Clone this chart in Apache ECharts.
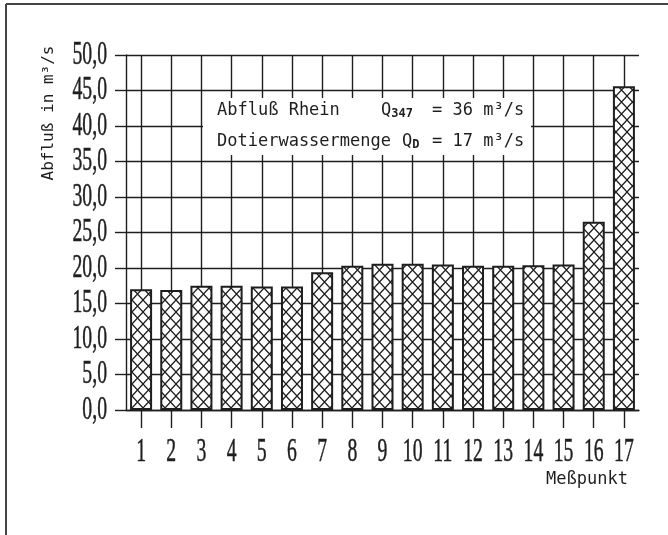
<!DOCTYPE html>
<html><head><meta charset="utf-8">
<script src="https://cdn.jsdelivr.net/npm/echarts@6/dist/echarts.min.js"></script>
<style>html,body{margin:0;padding:0;background:#fff}#c{width:668px;height:535px}</style>
</head><body><div id="c"></div>
<script>
const categories = ['1','2','3','4','5','6','7','8','9','10','11','12','13','14','15','16','17'];
const flowValues = [17.0, 16.9, 17.5, 17.5, 17.4, 17.4, 19.4, 20.3, 20.6, 20.6, 20.5, 20.3, 20.3, 20.4, 20.5, 26.5, 45.6];
const yMin = 0, yMax = 50, yStep = 5;
const yAxisName = 'Abfluß in m³/s';
const xAxisName = 'Meßpunkt';
const noteRiver = 'Abfluß Rhein';
const noteRiverQ = 'Q{s|347}';
const noteRiverVal = '= 36 m³/s';
const noteDot = 'Dotierwassermenge';
const noteDotQ = 'Q{s|D}';
const noteDotVal = '= 17 m³/s';

const INK = '#1e1e1e';
const MONO = '"DejaVu Sans Mono", "Liberation Mono", monospace';
const NUMF = '"Liberation Serif", serif';
const NUMSIZE = 34;

function hatch() {
  const c = document.createElement('canvas');
  c.width = 11; c.height = 12;
  const g = c.getContext('2d');
  g.fillStyle = '#fff'; g.fillRect(0, 0, 11, 12);
  g.strokeStyle = INK; g.lineWidth = 1.3;
  g.beginPath();
  g.moveTo(-1, -12/11); g.lineTo(12, 12 + 12/11);
  g.moveTo(12, -12/11); g.lineTo(-1, 12 + 12/11);
  g.stroke();
  return c;
}

const chart = echarts.init(document.getElementById('c'), null, {renderer: 'canvas'});
const lineSt = {color: INK, width: 1.4};
const numLabel = {fontFamily: NUMF, fontSize: NUMSIZE, color: INK, textBorderColor: INK, textBorderWidth: 0.5};
chart.setOption({
  animation: false,
  backgroundColor: '#fff',
  grid: {left: 126, right: 29, top: 55, bottom: 125},
  xAxis: {
    type: 'category', data: categories, boundaryGap: true,
    axisLine: {show: true, lineStyle: lineSt},
    axisTick: {show: true, alignWithLabel: true, length: 18, lineStyle: lineSt},
    axisLabel: Object.assign({interval: 0, margin: 25, hideOverlap: false}, numLabel),
    splitLine: {show: true, alignWithLabel: true, lineStyle: lineSt}
  },
  yAxis: {
    type: 'value', min: yMin, max: yMax, interval: yStep,
    axisLine: {show: true, lineStyle: lineSt},
    axisTick: {show: true, length: 11, lineStyle: lineSt},
    axisLabel: Object.assign({margin: 19, formatter: v => v.toFixed(1).replace('.', ',')}, numLabel),
    splitLine: {show: true, lineStyle: lineSt}
  },
  series: [{
    type: 'bar', data: flowValues, barWidth: 22,
    itemStyle: {color: {image: hatch(), repeat: 'repeat'}, borderColor: INK, borderWidth: 2}
  }],
  graphic: [
    {type: 'line', z: 100, shape: {x1: 6, y1: 4, x2: 668, y2: 4}, style: {stroke: '#444', lineWidth: 2}},
    {type: 'line', z: 100, shape: {x1: 6, y1: 4, x2: 6, y2: 535}, style: {stroke: '#444', lineWidth: 2}},
    {type: 'rect', z: 100, shape: {x: 203, y: 98, width: 328, height: 57}, style: {fill: '#fff'}},
    {type: 'text', z: 101, x: 217, y: 111, style: {text: noteRiver, font: '17px ' + MONO, fill: INK, verticalAlign: 'middle'}},
    {type: 'text', z: 101, x: 381, y: 111, style: {text: noteRiverQ, font: '17px ' + MONO, fill: INK, verticalAlign: 'middle',
      rich: {s: {fontSize: 12, fontWeight: 'bold', fontFamily: MONO, fill: INK, verticalAlign: 'bottom'}}}},
    {type: 'text', z: 101, x: 432, y: 111, style: {text: noteRiverVal, font: '17px ' + MONO, fill: INK, verticalAlign: 'middle'}},
    {type: 'text', z: 101, x: 217, y: 142, style: {text: noteDot, font: '17px ' + MONO, fill: INK, verticalAlign: 'middle'}},
    {type: 'text', z: 101, x: 402, y: 142, style: {text: noteDotQ, font: '17px ' + MONO, fill: INK, verticalAlign: 'middle',
      rich: {s: {fontSize: 12, fontWeight: 'bold', fontFamily: MONO, fill: INK, verticalAlign: 'bottom'}}}},
    {type: 'text', z: 101, x: 432, y: 142, style: {text: noteDotVal, font: '17px ' + MONO, fill: INK, verticalAlign: 'middle'}},
    {type: 'text', z: 101, x: 49, y: 113, rotation: Math.PI / 2,
      style: {text: yAxisName, font: '16px ' + MONO, fill: INK, align: 'center', verticalAlign: 'middle'}},
    {type: 'text', z: 101, x: 628, y: 480,
      style: {text: xAxisName, font: '17px ' + MONO, fill: INK, align: 'right', verticalAlign: 'middle'}}
  ]
});

// condense the numeric tick labels horizontally (the original uses a narrow typeface)
(function condense() {
  const zr = chart.getZr();
  zr.storage.getRoots().forEach(root => {
    root.traverse(el => {
      if (el.type === 'text' && el.style && el.style.fontSize == NUMSIZE) {
        el.scaleX = 0.58;
        el.markRedraw && el.markRedraw();
      }
    });
  });
  zr.refreshImmediately();
})();
</script></body></html>
